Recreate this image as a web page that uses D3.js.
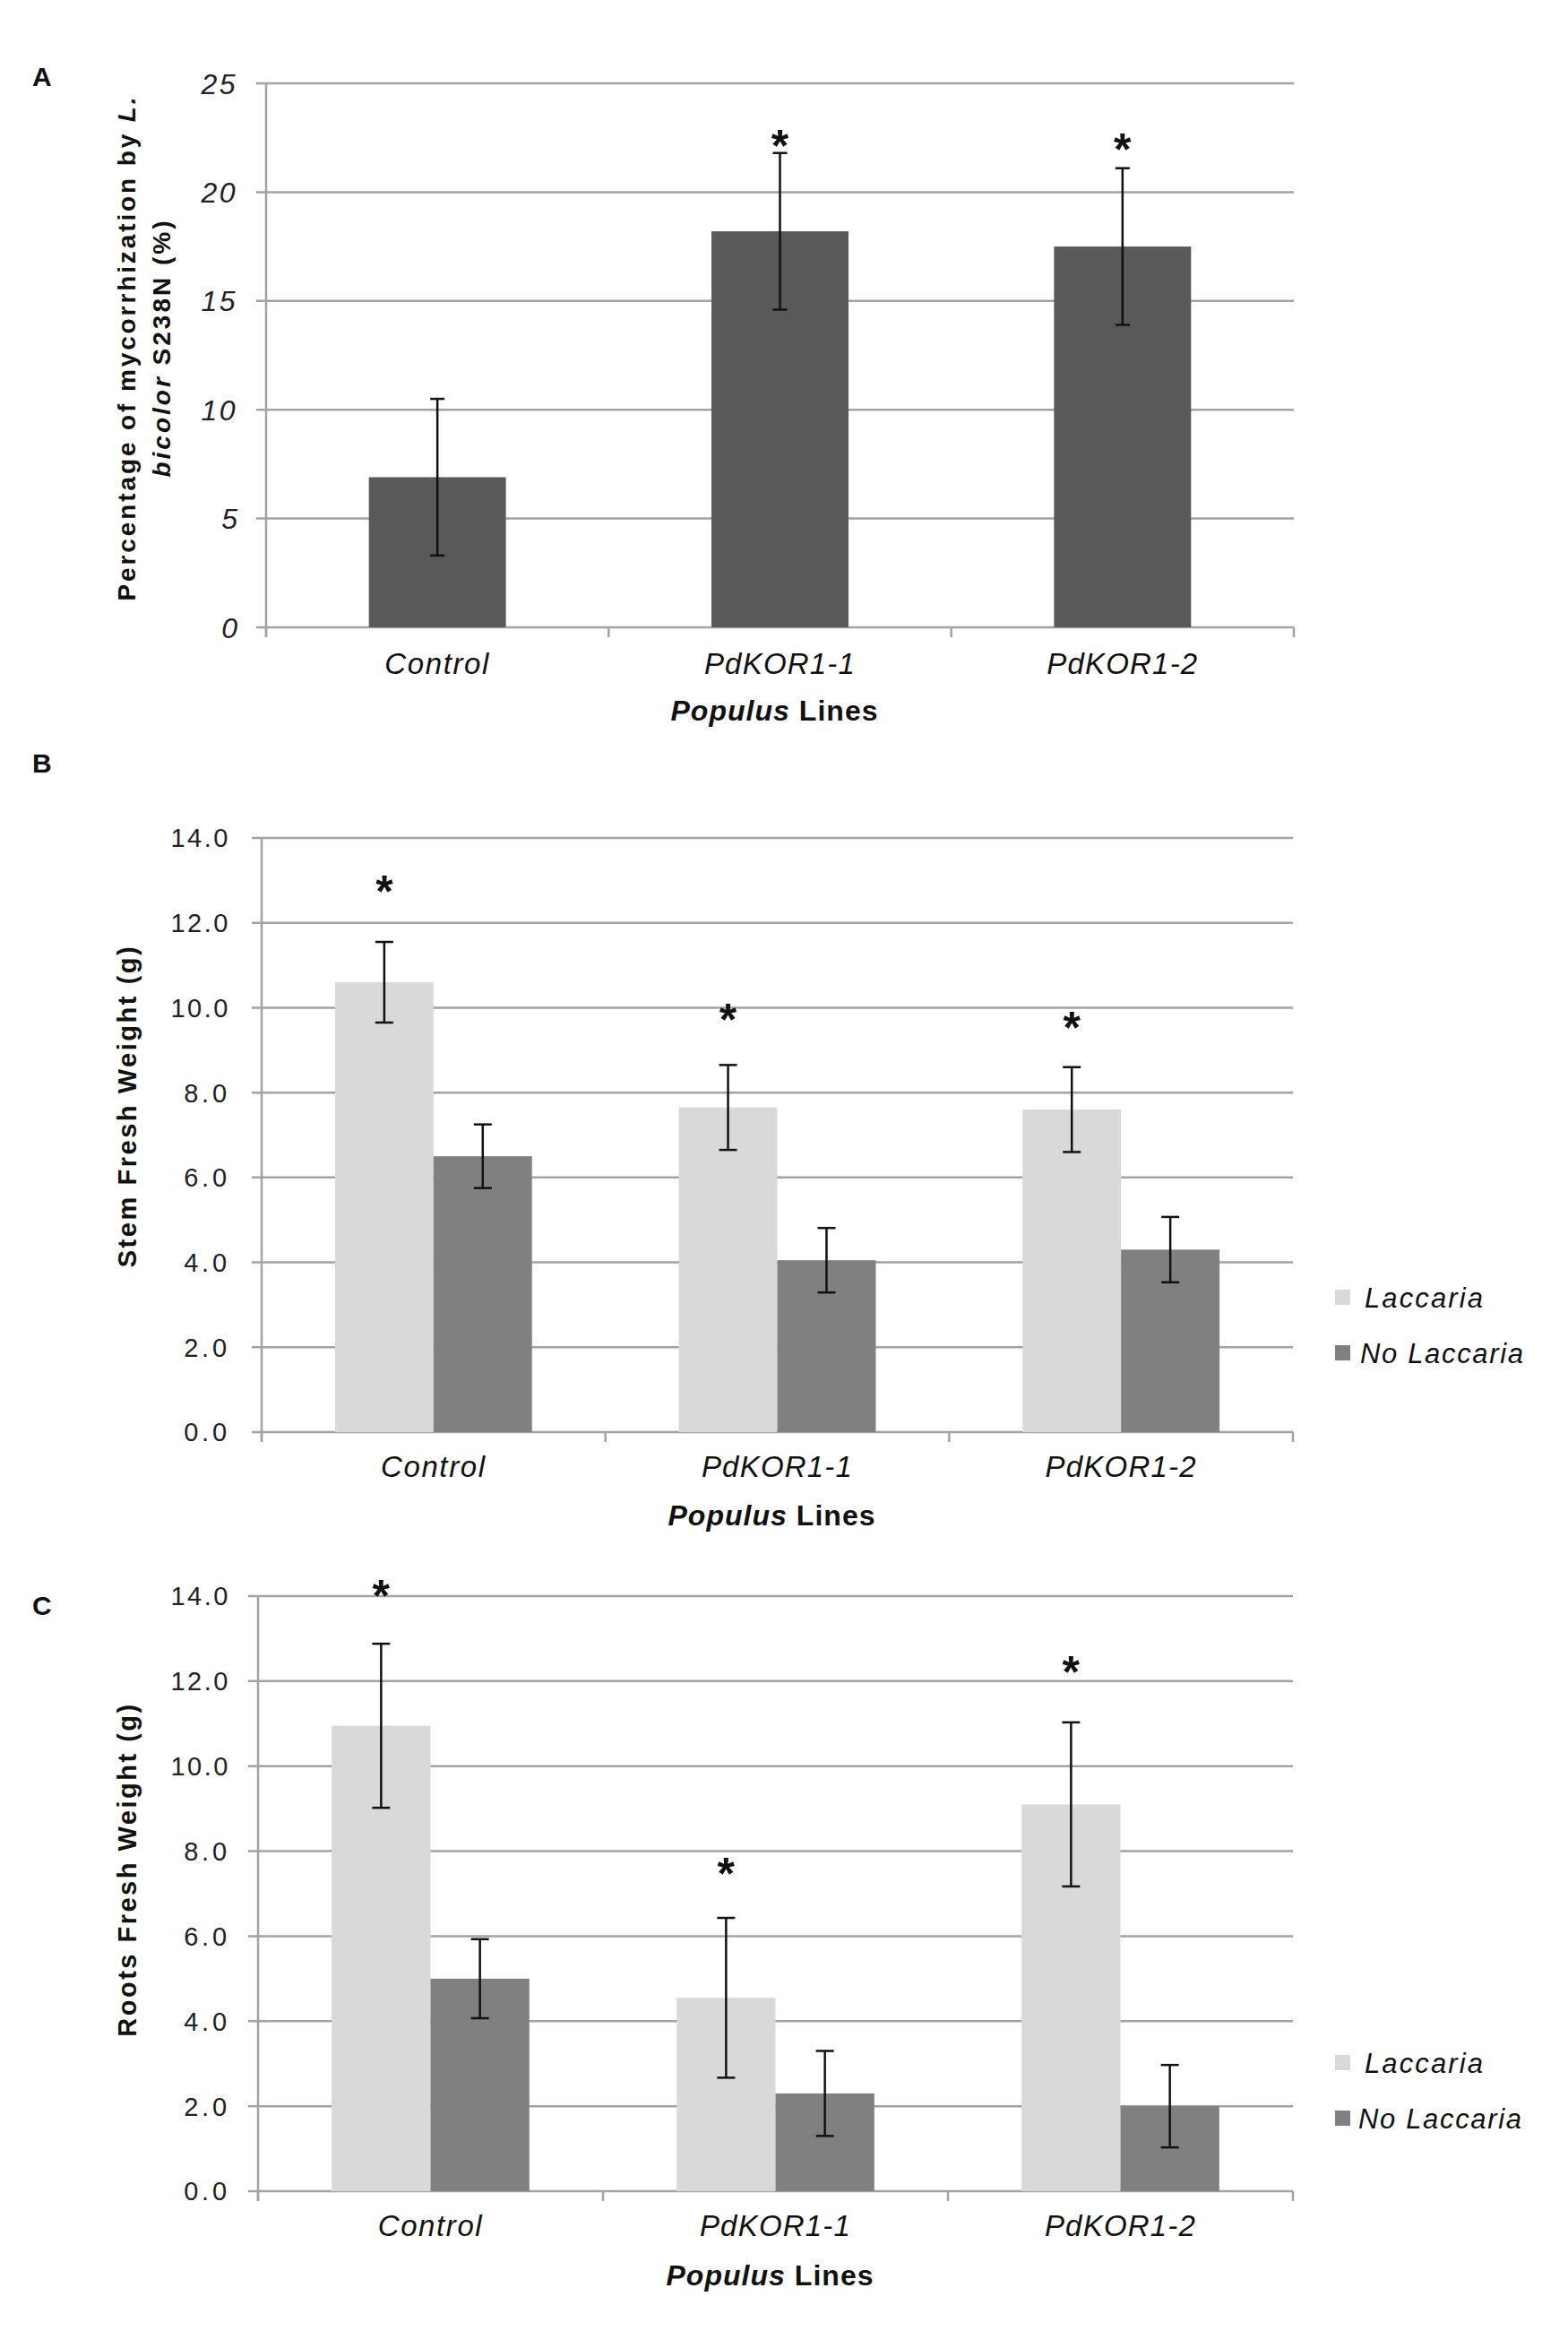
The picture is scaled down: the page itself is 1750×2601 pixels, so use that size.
<!DOCTYPE html>
<html>
<head>
<meta charset="utf-8">
<script src="https://cdn.jsdelivr.net/npm/d3@7"></script>
<style>
  html, body { margin: 0; padding: 0; background: #fff; }
  svg { display: block; }
  text { font-family: "Liberation Sans", Arial, sans-serif; }
</style>
</head>
<body>
<svg id="chart" width="1750" height="2601"></svg>
<script>
// ---------------- DATA ----------------
const categories = ["Control", "PdKOR1-1", "PdKOR1-2"];
const seriesNames = ["Laccaria", "No Laccaria"];
const yTicksA = [0, 5, 10, 15, 20, 25];
const yTicksBC = [0, 2, 4, 6, 8, 10, 12, 14];

// Panel A: percentage of mycorrhization
const mycorrhization = [6.9, 18.2, 17.5];
const mycorrhizationErr = [3.6, 3.6, 3.6];
const mycorrhizationStars = [null, 22.65, 22.5];

// Panel B: stem fresh weight (g)
const stemLaccaria = [10.6, 7.65, 7.6];
const stemLaccariaErr = [0.95, 1.0, 1.0];
const stemNoLaccaria = [6.5, 4.05, 4.3];
const stemNoLaccariaErr = [0.75, 0.76, 0.77];
const stemStars = [13.0, 9.98, 9.8];

// Panel C: roots fresh weight (g)
const rootsLaccaria = [10.95, 4.55, 9.1];
const rootsLaccariaErr = [1.93, 1.88, 1.93];
const rootsNoLaccaria = [5.0, 2.3, 2.0];
const rootsNoLaccariaErr = [0.93, 1.0, 0.97];
const rootsStars = [14.27, 7.74, 12.48];

// ---------------- STYLE ----------------
const GRID = "#a3a3a3";
const DARK = "#595959";
const LIGHT = "#d9d9d9";
const MID = "#808080";

const svg = d3.select("#chart");

// helper: stretch text to a target length with letter-spacing
function fitText(sel, target) {
  sel.each(function () {
    const n = this.getNumberOfChars();
    const w = this.getComputedTextLength();
    if (n > 1) d3.select(this).attr("letter-spacing", ((target - w) / (n - 1)).toFixed(2));
  });
}

function drawStar(g, x, yCenter, size) {
  g.append("text")
    .attr("x", x)
    .attr("y", yCenter + size * 0.6)
    .attr("text-anchor", "middle")
    .attr("font-size", size)
    .attr("font-weight", "bold")
    .attr("fill", "#111")
    .text("*");
}

function errorBar(g, x, y1, y2, cap) {
  g.append("line").attr("x1", x).attr("x2", x).attr("y1", y1).attr("y2", y2)
    .attr("stroke", "#111").attr("stroke-width", 2.5);
  [y1, y2].forEach(yy => g.append("line")
    .attr("x1", x - cap).attr("x2", x + cap).attr("y1", yy).attr("y2", yy)
    .attr("stroke", "#111").attr("stroke-width", 2.5));
}

function drawFrame(g, cfg) {
  const { x, y, ticks, tickFmt, tickFont, tickSize, tickRight, tickWidth } = cfg;
  const [x0, x1] = x.range();
  g.append("g").selectAll("line").data(ticks).join("line")
    .attr("x1", x0 - 11).attr("x2", x1)
    .attr("y1", d => y(d)).attr("y2", d => y(d))
    .attr("stroke", GRID).attr("stroke-width", 2.5);
  g.append("line").attr("x1", x0).attr("x2", x0)
    .attr("y1", y(ticks[ticks.length - 1])).attr("y2", y(0) + 11)
    .attr("stroke", GRID).attr("stroke-width", 2.5);
  const step = x.step();
  const bounds = d3.range(categories.length + 1).map(i => x0 + i * step);
  g.append("g").selectAll("line").data(bounds).join("line")
    .attr("x1", d => d).attr("x2", d => d)
    .attr("y1", y(0)).attr("y2", y(0) + 11)
    .attr("stroke", GRID).attr("stroke-width", 2.5);
  g.append("g").selectAll("text").data(ticks).join("text")
    .attr("x", tickRight).attr("y", d => y(d))
    .attr("dy", "0.36em")
    .attr("text-anchor", "end")
    .attr("font-size", tickSize)
    .attr("font-style", tickFont)
    .attr("fill", "#222")
    .text(tickFmt)
    .each(function () { fitText(d3.select(this), tickWidth(this.getNumberOfChars())); });
}

function drawXLabels(g, x, labelY, titleY) {
  g.append("g").selectAll("text").data(categories).join("text")
    .attr("x", d => x(d) + x.bandwidth() / 2)
    .attr("y", labelY)
    .attr("text-anchor", "middle")
    .attr("font-size", 33)
    .attr("font-style", "italic")
    .attr("fill", "#111")
    .text(d => d)
    .each(function (d) {
      fitText(d3.select(this), d === "Control" ? 116 : 168);
    });
  const [x0, x1] = x.range();
  const t = g.append("text")
    .attr("x", (x0 + x1) / 2 - 6).attr("y", titleY)
    .attr("text-anchor", "middle")
    .attr("font-size", 32)
    .attr("font-weight", "bold")
    .attr("fill", "#111");
  t.append("tspan").attr("font-style", "italic").text("Populus");
  t.append("tspan").text(" Lines");
  fitText(t, 231);
}

function panelLabel(txt, x, y) {
  svg.append("text").attr("x", x).attr("y", y)
    .attr("font-size", 30).attr("font-weight", "bold").attr("fill", "#111")
    .text(txt);
}

// ================= PANEL A =================
{
  const g = svg.append("g");
  const x = d3.scaleBand().domain(categories).range([297, 1444])
    .paddingInner(0.6).paddingOuter(0.3);
  const y = d3.scaleLinear().domain([0, 25]).range([700, 93]);
  drawFrame(g, { x, y, ticks: yTicksA, tickFmt: d => d, tickFont: "italic", tickSize: 32, tickRight: 265,
    tickWidth: n => n === 1 ? 18 : 38 });

  g.append("g").selectAll("rect").data(categories).join("rect")
    .attr("x", d => x(d)).attr("width", x.bandwidth())
    .attr("y", (d, i) => y(mycorrhization[i]))
    .attr("height", (d, i) => y(0) - y(mycorrhization[i]))
    .attr("fill", DARK);

  categories.forEach((c, i) => {
    const cx = x(c) + x.bandwidth() / 2;
    errorBar(g, cx, y(mycorrhization[i] + mycorrhizationErr[i]), y(mycorrhization[i] - mycorrhizationErr[i]), 8);
    if (mycorrhizationStars[i] != null) drawStar(g, cx, y(mycorrhizationStars[i]), 50);
  });

  drawXLabels(g, x, 752, 804);

  const t1 = g.append("text")
    .attr("transform", "translate(151,388) rotate(-90)")
    .attr("text-anchor", "middle").attr("font-size", 28).attr("font-weight", "bold").attr("fill", "#111");
  t1.append("tspan").text("Percentage of mycorrhization by ");
  t1.append("tspan").attr("font-style", "italic").text("L.");
  fitText(t1, 562);
  const t2 = g.append("text")
    .attr("transform", "translate(190,388) rotate(-90)")
    .attr("text-anchor", "middle").attr("font-size", 28).attr("font-weight", "bold").attr("fill", "#111");
  t2.append("tspan").attr("font-style", "italic").text("bicolor");
  t2.append("tspan").text(" S238N (%)");
  fitText(t2, 286);

  panelLabel("A", 36, 96);
}

// ================= PANELS B & C =================
function groupedPanel(opts) {
  const g = svg.append("g");
  const x = d3.scaleBand().domain(categories).range([opts.left, 1443])
    .paddingInner(0.427).paddingOuter(0.2135);
  const xs = d3.scaleBand().domain(seriesNames).range([0, x.bandwidth()]).padding(0);
  const y = d3.scaleLinear().domain([0, 14]).range([opts.y0, opts.y14]);
  drawFrame(g, { x, y, ticks: yTicksBC, tickFmt: d3.format(".1f"), tickFont: "normal", tickSize: 29, tickRight: 257,
    tickWidth: n => n === 3 ? 48 : 64 });

  const series = [
    { name: seriesNames[0], vals: opts.lac, err: opts.lacErr, color: LIGHT },
    { name: seriesNames[1], vals: opts.nolac, err: opts.nolacErr, color: MID }
  ];
  series.forEach(s => {
    g.append("g").selectAll("rect").data(categories).join("rect")
      .attr("x", d => x(d) + xs(s.name)).attr("width", xs.bandwidth())
      .attr("y", (d, i) => y(s.vals[i]))
      .attr("height", (d, i) => y(0) - y(s.vals[i]))
      .attr("fill", s.color);
  });
  series.forEach(s => {
    categories.forEach((c, i) => {
      const cx = x(c) + xs(s.name) + xs.bandwidth() / 2;
      errorBar(g, cx, y(s.vals[i] + s.err[i]), y(s.vals[i] - s.err[i]), 10);
    });
  });
  categories.forEach((c, i) => {
    const cx = x(c) + xs(seriesNames[0]) + xs.bandwidth() / 2;
    drawStar(g, cx, y(opts.stars[i]), 50);
  });

  drawXLabels(g, x, opts.labelY, opts.titleY);

  const t = g.append("text")
    .attr("transform", `translate(${opts.titleX},${opts.titleCY}) rotate(-90)`)
    .attr("text-anchor", "middle").attr("font-size", 29).attr("font-weight", "bold").attr("fill", "#111")
    .text(opts.yTitle);
  fitText(t, opts.titleLen);

  const lg = g.append("g");
  series.forEach((s, i) => {
    const cy = opts.legY[i];
    lg.append("rect").attr("x", opts.legX).attr("y", cy - 9).attr("width", 17).attr("height", 17).attr("fill", s.color);
    const lt = lg.append("text").attr("x", opts.legX + opts.legTextDx[i]).attr("y", cy + 11)
      .attr("font-size", 31).attr("font-style", "italic").attr("fill", "#111").text(s.name);
    fitText(lt, i === 0 ? 132 : 182);
  });

  panelLabel(opts.label, 36, opts.labelPanelY);
}

groupedPanel({
  label: "B", labelPanelY: 862,
  left: 292, y0: 1598, y14: 935,
  lac: stemLaccaria, lacErr: stemLaccariaErr,
  nolac: stemNoLaccaria, nolacErr: stemNoLaccariaErr,
  stars: stemStars,
  labelY: 1648, titleY: 1702,
  yTitle: "Stem Fresh Weight (g)", titleX: 152, titleCY: 1234, titleLen: 358,
  legX: 1490, legY: [1448, 1510], legTextDx: [33, 28]
});

groupedPanel({
  label: "C", labelPanelY: 1802,
  left: 288, y0: 2445, y14: 1781,
  lac: rootsLaccaria, lacErr: rootsLaccariaErr,
  nolac: rootsNoLaccaria, nolacErr: rootsNoLaccariaErr,
  stars: rootsStars,
  labelY: 2495, titleY: 2550,
  yTitle: "Roots Fresh Weight (g)", titleX: 152, titleCY: 2086, titleLen: 371,
  legX: 1490, legY: [2302, 2364], legTextDx: [33, 26]
});
</script>
</body>
</html>
